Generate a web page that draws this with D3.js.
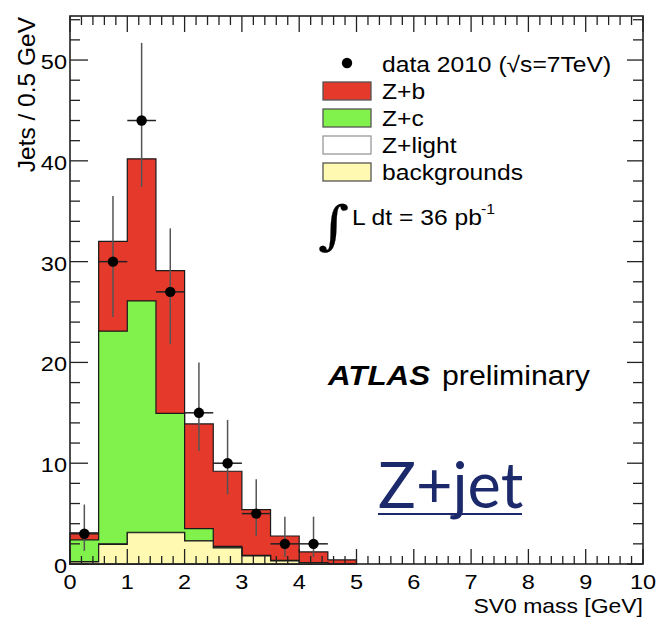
<!DOCTYPE html>
<html><head><meta charset="utf-8">
<script src="https://cdn.jsdelivr.net/npm/d3@7/dist/d3.min.js"></script>
<style>body{margin:0;background:#fff} svg{display:block}</style>
</head><body>
<svg id="c" width="657" height="618"></svg>
<script>
// ---- data ----
const binLow = [0, 0.5, 1, 1.5, 2, 2.5, 3, 3.5, 4, 4.5];
const binWidth = 0.5;
const backgrounds = [0.2, 1.95, 3.1, 3.1, 2.3, 1.6, 0.8, 0.3, 0.15, 0.05];
const zLight = [0.05, 0.05, 0.05, 0.05, 0, 0, 0, 0, 0, 0];
const zC = [2.15, 21.1, 22.95, 11.8, 1.2, 0.15, 0.05, 0.05, 0, 0];
const zB = [0.7, 8.9, 14.1, 14.15, 10.4, 7.45, 4.55, 2.43, 1.05, 0.35];
const dataX = [0.25, 0.75, 1.25, 1.75, 2.25, 2.75, 3.25, 3.75, 4.25];
const dataY = [3, 30, 44, 27, 15, 10, 5, 2, 2];
const dataLow = [1.3, 24.5, 37.4, 21.8, 11.2, 6.9, 2.8, 0.7, 0.7];
const dataHigh = [5.9, 36.5, 51.7, 33.3, 20.0, 14.3, 8.4, 4.7, 4.7];
const xTickLabels = [0,1,2,3,4,5,6,7,8,9,10];
const yTickLabels = [0,10,20,30,40,50];
const seriesKeys = ["backgrounds", "Z+light", "Z+c", "Z+b"];
const seriesColors = {"Z+b":"#e5392b", "Z+c":"#80f24b", "Z+light":"#ffffff", "backgrounds":"#fff9b2"};

// ---- setup ----
const svg = d3.select("#c");
const L = 70, R = 643, T = 16, B = 564;
const x = d3.scaleLinear().domain([0, 10]).range([L, R]);
const y = d3.scaleLinear().domain([0, 54.37]).range([B, T]);
const SX = 1.12;
const FONT = "'Liberation Sans', Arial, Helvetica, sans-serif";

function txt(px, py, s, o = {}) {
  const t = svg.append("text")
    .attr("transform", `translate(${px},${py}) scale(${o.sx ?? SX},1)` + (o.rot ? ` rotate(${o.rot})` : ""))
    .attr("text-anchor", o.anchor || "start")
    .attr("font-family", o.family || FONT)
    .attr("font-size", o.size || 22)
    .attr("fill", o.fill || "#000");
  if (o.weight) t.attr("font-weight", o.weight);
  if (o.style) t.attr("font-style", o.style);
  if (o.stroke) t.attr("stroke", o.fill || "#000").attr("stroke-width", o.stroke);
  t.text(s);
  return t;
}

// ---- stacked histogram ----
const rows = binLow.map((b, i) => ({lo: b, "backgrounds": backgrounds[i], "Z+light": zLight[i], "Z+c": zC[i], "Z+b": zB[i]}));
const stack = d3.stack().keys(seriesKeys)(rows);

function stepPath(layer) {
  let p = `M${x(rows[0].lo)},${y(0)}`;
  layer.forEach((d, i) => {
    p += `L${x(rows[i].lo)},${y(d[1])}L${x(rows[i].lo + binWidth)},${y(d[1])}`;
  });
  p += `L${x(rows[rows.length - 1].lo + binWidth)},${y(0)}Z`;
  return p;
}
stack.slice().reverse().forEach(layer => {
  svg.append("path").attr("d", stepPath(layer))
    .attr("fill", seriesColors[layer.key])
    .attr("stroke", "#1a1a1a").attr("stroke-width", 1.2)
    .attr("stroke-linejoin", "miter");
});

// ---- data points ----
const pts = svg.append("g");
dataX.forEach((dx, i) => {
  pts.append("line").attr("x1", x(dx)).attr("x2", x(dx)).attr("y1", y(dataLow[i])).attr("y2", y(dataHigh[i]))
    .attr("stroke", "#555").attr("stroke-width", 1.5);
  pts.append("line").attr("x1", x(dx - binWidth / 2)).attr("x2", x(dx + binWidth / 2)).attr("y1", y(dataY[i])).attr("y2", y(dataY[i]))
    .attr("stroke", "#222").attr("stroke-width", 1.5);
  pts.append("circle").attr("cx", x(dx)).attr("cy", y(dataY[i])).attr("r", 5.2).attr("fill", "#000");
});

// ---- frame and ticks (inside) ----
const ax = svg.append("g").attr("stroke", "#222").attr("stroke-width", 1.3);
d3.range(0, 10.001, 0.2).forEach(v => {
  const major = Math.abs(v - Math.round(v)) < 1e-6;
  const len = major ? 15 : 8;
  ax.append("line").attr("x1", x(v)).attr("x2", x(v)).attr("y1", B).attr("y2", B - len);
  ax.append("line").attr("x1", x(v)).attr("x2", x(v)).attr("y1", T).attr("y2", T + (major ? 16 : 9));
});
d3.range(0, 54.37, 2).forEach(v => {
  const major = v % 10 === 0;
  const len = major ? 18 : 10;
  ax.append("line").attr("x1", L).attr("x2", L + len).attr("y1", y(v)).attr("y2", y(v));
  ax.append("line").attr("x1", R).attr("x2", R - (major ? 16 : 10)).attr("y1", y(v)).attr("y2", y(v));
});
svg.append("rect").attr("x", L).attr("y", T).attr("width", R - L).attr("height", B - T)
  .attr("fill", "none").attr("stroke", "#222").attr("stroke-width", 1.6);

// tick labels
xTickLabels.forEach(v => txt(x(v), 589, String(v), {anchor: "middle", size: 21}));
yTickLabels.forEach(v => txt(67, y(v) + 9, String(v), {anchor: "end", size: 21}));

// axis titles
txt(643, 613, "SV0 mass [GeV]", {anchor: "end", size: 20.5});
svg.append("text").attr("transform", "translate(35,17) rotate(-90)")
  .attr("text-anchor", "end").attr("font-family", FONT).attr("font-size", 24.5).text("Jets / 0.5 GeV");

// ---- legend ----
svg.append("circle").attr("cx", 347).attr("cy", 63).attr("r", 5.2).attr("fill", "#000");
const dt = txt(382, 72, "", {size: 22});
dt.append("tspan").text("data 2010 (");
dt.append("tspan").text("√s=7TeV)");
const legendRows = ["Z+b", "Z+c", "Z+light", "backgrounds"];
legendRows.forEach((k, i) => {
  const ty = 82 + i * 27;
  svg.append("rect").attr("x", 323).attr("y", ty).attr("width", 48).attr("height", 18)
    .attr("fill", seriesColors[k]).attr("stroke", k === "Z+light" ? "#999" : "#555").attr("stroke-width", 1.3);
  txt(382, ty + 17, k, {size: 22});
});

// luminosity
txt(318, 243, "∫", {size: 52, family: "'DejaVu Serif', 'Liberation Serif', serif", sx: 1.15, stroke: 0.2});
txt(352, 225, "L dt = 36 pb", {size: 22});
txt(481, 214, "-1", {size: 14});

// ATLAS preliminary
txt(328, 385, "ATLAS", {size: 28, weight: "bold", style: "italic"});
txt(442, 385, "preliminary", {size: 27});

// Z+jet
txt(378, 508, "Z+jet", {size: 63, family: "Lato, 'Open Sans', sans-serif", fill: "#1c2a6b", sx: 1});
svg.append("line").attr("x1", 378).attr("x2", 522).attr("y1", 514).attr("y2", 514)
  .attr("stroke", "#1c2a6b").attr("stroke-width", 2.2);
</script>
</body></html>
